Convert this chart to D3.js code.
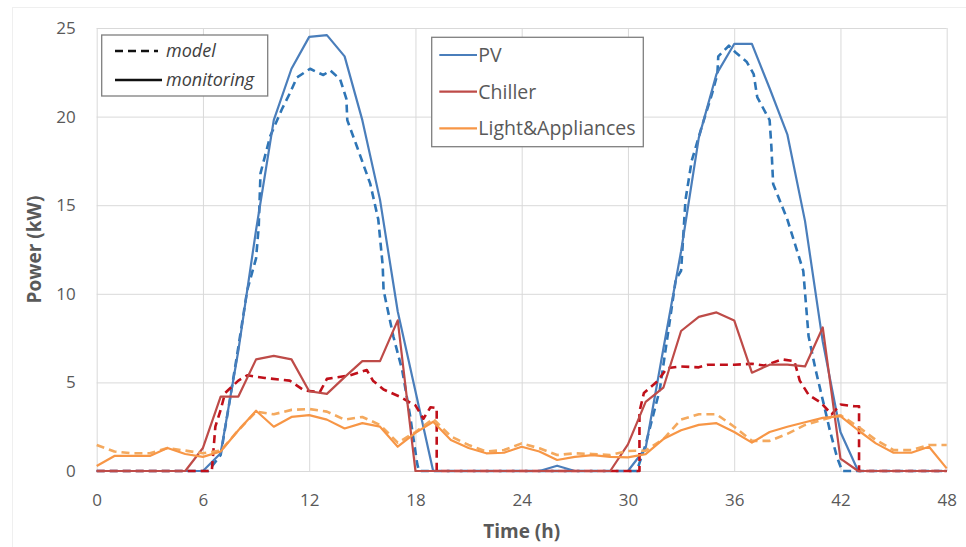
<!DOCTYPE html>
<html>
<head>
<meta charset="utf-8">
<script src="https://cdn.jsdelivr.net/npm/d3@7"></script>
<style>
  html, body { margin: 0; padding: 0; background: #fff; }
  svg { display: block; font-family: "Open Sans", "Noto Sans", sans-serif; }
</style>
</head>
<body>
<svg id="chart" width="966" height="547"></svg>
<script>
// Hourly monitoring data (kW), hours 0..48
const hours = d3.range(0, 49);
const pvMonitoring = [0,0,0,0,0,0,0,1.0,6.8,13.6,19.8,22.7,24.5,24.6,23.4,19.8,15.3,9.0,4.5,0,
  0,0,0,0,0,0,0.3,0,0,0,0,1.3,6.9,12.4,18.8,22.4,24.1,24.1,21.6,19.0,14.1,7.3,2.2,0,0,0,0,0,0];
const chillerMonitoring = [0,0,0,0,0,0,1.3,4.2,4.2,6.3,6.5,6.3,4.5,4.35,5.3,6.2,6.2,8.5,0,0,
  0,0,0,0,0,0,0,0,0,0,1.5,3.9,4.7,7.9,8.7,8.95,8.5,5.55,6.0,6.0,5.9,8.1,0.7,0,0,0,0,0,0];
const lightMonitoring = [0.28,0.85,0.85,0.85,1.3,0.96,0.8,1.1,2.3,3.4,2.5,3.05,3.15,2.9,2.4,2.7,2.5,1.37,2.15,2.78,
  1.75,1.3,1.0,1.03,1.37,1.1,0.62,0.8,0.9,0.8,0.77,0.95,1.8,2.3,2.6,2.7,2.2,1.6,2.2,2.5,2.75,3.0,3.1,2.3,1.56,1.03,1.03,1.37,0.15];

// Model results
const lightModel = [1.47,1.1,1.0,1.0,1.3,1.15,1.0,1.15,2.3,3.35,3.2,3.45,3.5,3.35,2.9,3.05,2.6,1.6,2.2,2.95,
  1.95,1.47,1.1,1.18,1.56,1.28,0.9,1.0,0.96,0.9,1.13,1.15,1.8,2.9,3.2,3.2,2.5,1.7,1.7,2.1,2.6,2.9,3.15,2.5,1.75,1.18,1.18,1.47,1.47];

const pvModelTime = [0,6.3,7,7.5,8,8.5,9,9.15,9.25,9.8,10.45,10.9,11.3,12.05,12.45,12.8,13.2,13.75,14.1,14.15,
  14.7,15.45,15.9,16.15,16.2,16.75,17.25,17.7,18.1,18.2,30.5,31,31.45,31.8,32.7,33.0,33.25,33.6,34.1,34.75,
  35.05,35.1,35.7,36.1,36.7,37.1,37.3,38.0,38.1,38.2,39.0,39.9,40.2,40.6,41.05,41.4,41.8,42.1,48];
const pvModel = [0,0,0.9,3.9,7.0,10.2,12.0,13.8,16.8,18.9,20.4,21.3,22.2,22.7,22.5,22.35,22.6,22.1,21.0,19.8,
  18.3,16.2,14.2,11.6,10.2,7.6,5.7,3.1,0.4,0,0,1.5,3.25,4.6,10.8,11.3,15.3,17.5,19.2,21.3,
  22.4,23.4,24.0,23.6,23.1,22.4,21.1,19.8,18.3,16.2,14.2,11.3,7.6,5.7,3.8,2.3,0.8,0,0];

const chillerModelTime = [0,6.5,6.7,7,7.25,8,8.5,9.5,10.9,11.7,12.6,13,14.3,15.25,15.6,16.2,17.1,18,18.45,18.85,
  19.2,19.2,30.65,30.65,30.9,31.7,32.2,33,34,34.5,36,37,37.7,38.7,39.4,39.7,40.2,40.9,41.5,42,
  42.8,43.05,43.05,48];
const chillerModel = [0,0,2.5,3.45,4.4,5.1,5.4,5.25,5.1,4.55,4.45,5.2,5.4,5.7,5.1,4.6,4.2,3.7,2.95,3.6,
  3.55,0,0,3.35,4.4,5.1,5.8,5.9,5.85,6.0,6.0,6.05,5.95,6.3,6.2,5.1,4.3,3.85,3.2,3.75,
  3.65,3.65,0,0];

const xTicks = [0,6,12,18,24,30,36,42,48];
const yTicks = [0,5,10,15,20,25];
const seriesNames = ["PV", "Chiller", "Light&Appliances"];
const styleNames = ["model", "monitoring"];

const colors = {
  pv: "#4A7EBB", pvModel: "#2E75B6",
  chiller: "#BE4B48", chillerModel: "#C0101A",
  light: "#F79646", lightModel: "#F4A95E"
};

const svg = d3.select("#chart");
const x = d3.scaleLinear().domain([0, 48]).range([96.7, 946.7]);
const y = d3.scaleLinear().domain([0, 25]).range([471, 28]);

// faint chart-area border
svg.append("rect").attr("x", 12.5).attr("y", 7.5).attr("width", 960).attr("height", 560)
  .attr("fill", "none").attr("stroke", "#efefef");

// gridlines
const gx = svg.append("g").attr("transform", `translate(0,${y(0)})`)
  .call(d3.axisBottom(x).tickValues(xTicks).tickSize(-(y(0) - y(25))).tickFormat(""));
const gy = svg.append("g").attr("transform", `translate(${x(0)},0)`)
  .call(d3.axisLeft(y).tickValues(yTicks).tickSize(-(x(48) - x(0))).tickFormat(""));
[gx, gy].forEach(g => {
  g.select(".domain").remove();
  g.selectAll("line").attr("stroke", "#d9d9d9").attr("stroke-width", 1);
});

// tick labels
const ax = svg.append("g").attr("transform", `translate(0,${y(0)})`)
  .call(d3.axisBottom(x).tickValues(xTicks).tickSize(0).tickPadding(23));
const ay = svg.append("g").attr("transform", `translate(${x(0)},0)`)
  .call(d3.axisLeft(y).tickValues(yTicks).tickSize(0).tickPadding(21));
[ax, ay].forEach(g => {
  g.select(".domain").remove();
  g.selectAll("text").attr("fill", "#595959").style("font-size", "17px")
    .style("font-family", "'Open Sans', sans-serif");
});

// axis titles
svg.append("text").attr("x", (x(0) + x(48)) / 2).attr("y", 538)
  .attr("text-anchor", "middle").attr("fill", "#595959")
  .style("font-size", "19px").style("font-weight", "bold").text("Time (h)");
svg.append("text").attr("transform", `translate(41,${(y(0) + y(25)) / 2}) rotate(-90)`)
  .attr("text-anchor", "middle").attr("fill", "#595959")
  .style("font-size", "19px").style("font-weight", "bold").text("Power (kW)");

// series
const line = d3.line().x(d => x(d[0])).y(d => y(d[1]));
const zipH = vals => hours.map((h, i) => [h, vals[i]]);
const zipT = (t, vals) => t.map((h, i) => [h, vals[i]]);

const plot = svg.append("g").attr("fill", "none").attr("stroke-linejoin", "round");
const drawLine = (pts, color, dashed, w) => plot.append("path")
  .attr("d", line(pts)).attr("stroke", color).attr("stroke-width", w)
  .attr("stroke-dasharray", dashed ? "8,5" : null);

drawLine(zipT(pvModelTime, pvModel), colors.pvModel, true, 2.6);
drawLine(zipH(pvMonitoring), colors.pv, false, 2.2);
drawLine(zipT(chillerModelTime, chillerModel), colors.chillerModel, true, 2.6);
drawLine(zipH(chillerMonitoring), colors.chiller, false, 2.2);
drawLine(zipH(lightModel), colors.lightModel, true, 2.6);
drawLine(zipH(lightMonitoring), colors.light, false, 2.2);

// legend: line style
const lg1 = svg.append("g");
lg1.append("rect").attr("x", 101.7).attr("y", 35).attr("width", 166).attr("height", 61)
  .attr("fill", "#fff").attr("stroke", "#7f7f7f").attr("stroke-width", 1.3);
styleNames.forEach((name, i) => {
  const yy = 51 + i * 29;
  lg1.append("line").attr("x1", 115).attr("x2", i === 0 ? 158 : 162).attr("y1", yy).attr("y2", yy)
    .attr("stroke", "#111").attr("stroke-width", 2.6)
    .attr("stroke-dasharray", i === 0 ? "8,5" : null);
  lg1.append("text").attr("x", 166).attr("y", yy).attr("dy", "0.35em")
    .attr("fill", "#404040").style("font-size", "18px").style("font-style", "italic").text(name);
});

// legend: series
const lg2 = svg.append("g");
lg2.append("rect").attr("x", 431.7).attr("y", 37.3).attr("width", 211.6).attr("height", 109.4)
  .attr("fill", "#fff").attr("stroke", "#7f7f7f").attr("stroke-width", 1.3);
const legendColors = [colors.pv, colors.chiller, colors.light];
seriesNames.forEach((name, i) => {
  const yy = 55 + i * 36.7;
  lg2.append("line").attr("x1", 439.3).attr("x2", 477).attr("y1", yy).attr("y2", yy)
    .attr("stroke", legendColors[i]).attr("stroke-width", 2.2);
  lg2.append("text").attr("x", 478.3).attr("y", yy).attr("dy", "0.35em")
    .attr("fill", "#595959").style("font-size", "19.5px").text(name);
});
</script>
</body>
</html>
